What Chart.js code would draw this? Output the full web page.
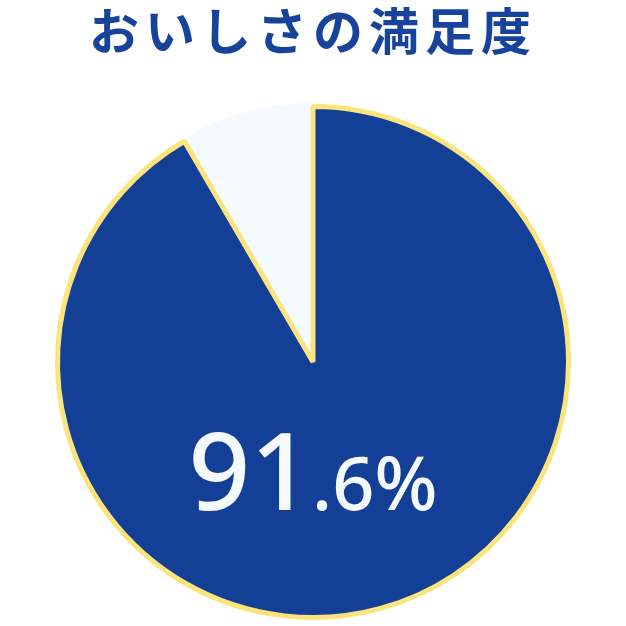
<!DOCTYPE html>
<html>
<head>
<meta charset="utf-8">
<script src="https://cdn.jsdelivr.net/npm/chart.js@4/dist/chart.umd.min.js"></script>
<style>
    html, body { margin: 0; padding: 0; background: #ffffff; }
    #wrap { width: 626px; height: 626px; }
</style>
</head>
<body>
<div id="wrap"><canvas id="pieChart"></canvas></div>
<script>
// data
var labels = ["不満", "満足"];
var values = [8.4, 91.6];
var sliceColors = ["#f5faff", "#143f96"];
var bigLabel = "91";
var smallLabel = ".6%";

// wider letter spacing for the title, reset before the pie is drawn
var titleSpacing = {
    id: "titleSpacing",
    beforeDraw: function (chart) {
        chart.ctx.letterSpacing = "6px";
    },
    beforeDatasetsDraw: function (chart) {
        chart.ctx.letterSpacing = "0px";
    }
};

// draws the percentage in the middle of the blue slice
var percentLabel = {
    id: "percentLabel",
    afterDatasetsDraw: function (chart) {
        var arc = chart.getDatasetMeta(0).data[1];
        var ctx = chart.ctx;
        var x = arc.x;
        var y = arc.y + 148;
        ctx.save();
        ctx.letterSpacing = "0px";
        ctx.fillStyle = "#f5faff";
        ctx.textBaseline = "alphabetic";
        ctx.font = "500 108px 'Noto Sans'";
        var w1 = ctx.measureText(bigLabel).width;
        ctx.font = "500 74px 'Noto Sans'";
        var w2 = ctx.measureText(smallLabel).width;
        var start = x - (w1 + w2) / 2;
        ctx.font = "500 108px 'Noto Sans'";
        ctx.fillText(bigLabel, start, y);
        ctx.font = "500 74px 'Noto Sans'";
        ctx.fillText(smallLabel, start + w1, y);
        ctx.restore();
    }
};

var ctx = document.getElementById("pieChart").getContext("2d");
new Chart(ctx, {
    type: "pie",
    data: {
        labels: labels,
        datasets: [{
            data: values,
            backgroundColor: sliceColors,
            borderColor: ["#f5faff", "#fbe47c"],
            borderWidth: [7, 5],
            hoverOffset: 0
        }]
    },
    options: {
        responsive: true,
        maintainAspectRatio: false,
        animation: false,
        rotation: -values[0] * 3.6,
        layout: {
            padding: { top: 0, bottom: 5, left: 0, right: 0 }
        },
        plugins: {
            legend: { display: false },
            tooltip: { enabled: false },
            title: {
                display: true,
                text: "おいしさの満足度",
                color: "#17439a",
                padding: { top: 1, bottom: 42 },
                font: {
                    family: "'Noto Sans CJK JP'",
                    size: 50,
                    weight: "bold"
                }
            }
        }
    },
    plugins: [titleSpacing, percentLabel]
});
</script>
</body>
</html>
